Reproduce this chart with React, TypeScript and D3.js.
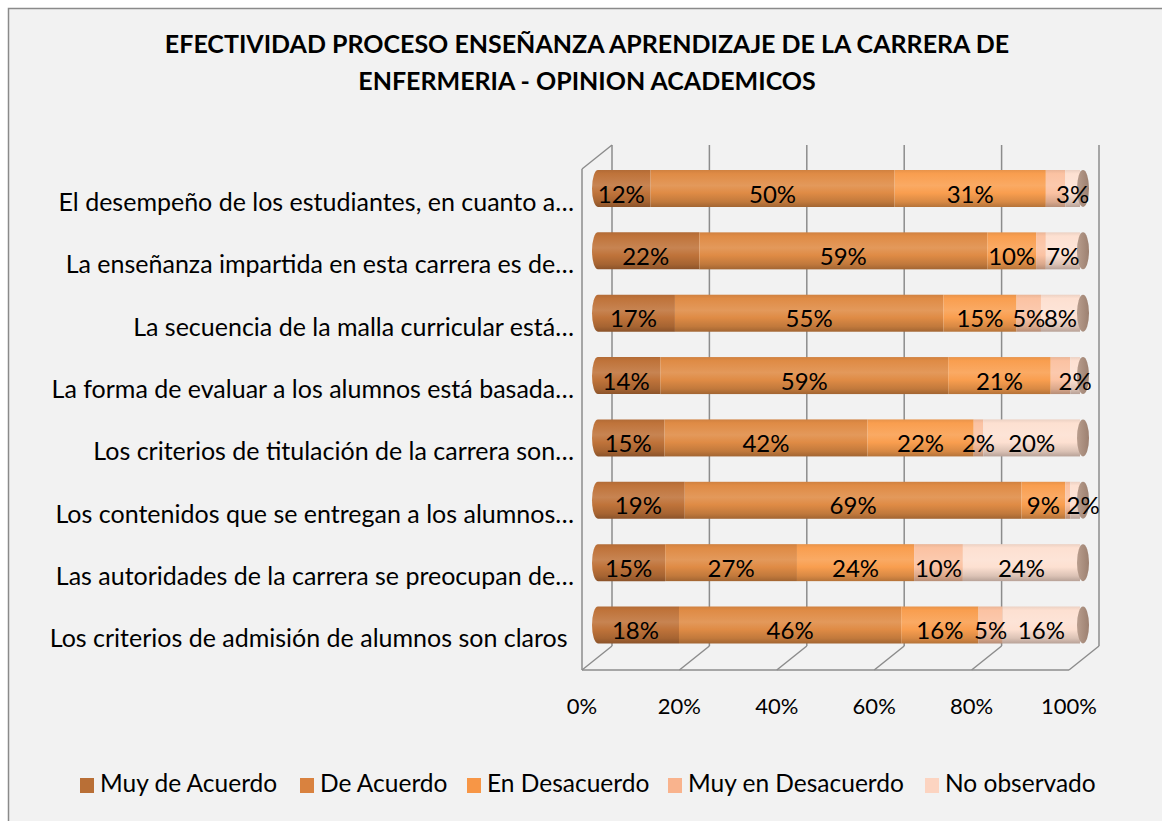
import React from 'react';
import * as d3 from 'd3';

const CATEGORIES = [
  'El desempeño de los estudiantes, en cuanto a…',
  'La enseñanza impartida en esta carrera es de…',
  'La secuencia de la malla curricular está…',
  'La forma de evaluar a los alumnos está basada…',
  'Los criterios de titulación de la carrera son…',
  'Los contenidos que se entregan a los alumnos…',
  'Las autoridades de la carrera se preocupan de…',
  'Los criterios de admisión de alumnos son claros ',
];

const SERIES = ['Muy de Acuerdo', 'De Acuerdo', 'En Desacuerdo', 'Muy en Desacuerdo', 'No observado'];

const MUY_DE_ACUERDO = [12, 22, 17, 14, 15, 19, 15, 18];
const DE_ACUERDO = [50, 59, 55, 59, 42, 69, 27, 46];
const EN_DESACUERDO = [31, 10, 15, 21, 22, 9, 24, 16];
const MUY_EN_DESACUERDO = [4, 2, 5, 4, 2, 1, 10, 5];
const NO_OBSERVADO = [3, 7, 8, 2, 20, 2, 24, 16];

// labels that are not shown in the original: [row, series]
const HIDDEN_LABELS = [[0, 3], [1, 3], [3, 3], [5, 3]];
// label moved right in the original: [row, series]
const NUDGED_LABELS = [[5, 4]];

const TICKS = [0, 0.2, 0.4, 0.6, 0.8, 1];

const COLORS = ['#b96f36', '#d9823f', '#f79646', '#f9b38d', '#fcd4c1'];
const CYL_COLORS = ['#bf733a', '#df8b45', '#f99e4f', '#fbc2a2', '#fde0d1'];

const FONT = 'Lato, "Open Sans", sans-serif';

export default function App() {
  const W = 1162;
  const H = 821;

  // 3D box geometry (front face + depth offset)
  const depthX = 30;
  const depthY = -24;
  const frontLeft = 582;
  const frontRight = 1069;
  const floorY = 670;
  const wallTop = 145;

  const xFront = d3.scaleLinear().domain([0, 1]).range([frontLeft, frontRight]);
  const xBack = d3.scaleLinear().domain([0, 1]).range([frontLeft + depthX, frontRight + depthX]);
  const xBar = d3.scaleLinear().domain([0, 1]).range([592, 1080]);
  const y = d3.scalePoint<string>().domain(CATEGORIES).range([188.5, 625]);
  const barH = 37;

  const rows = CATEGORIES.map((c, i) => ({
    cat: c,
    s0: MUY_DE_ACUERDO[i],
    s1: DE_ACUERDO[i],
    s2: EN_DESACUERDO[i],
    s3: MUY_EN_DESACUERDO[i],
    s4: NO_OBSERVADO[i],
  }));
  const keys = ['s0', 's1', 's2', 's3', 's4'];
  const stacked = d3.stack<any>().keys(keys).offset(d3.stackOffsetExpand)(rows);

  const isHidden = (r: number, s: number) => HIDDEN_LABELS.some(([a, b]) => a === r && b === s);
  const isNudged = (r: number, s: number) => NUDGED_LABELS.some(([a, b]) => a === r && b === s);

  const gridColor = '#8c8c8c';
  const rx = 6;

  return (
    <svg width={W} height={H} style={{ position: 'absolute', left: 0, top: 0 }} fontFamily={FONT}>
      <defs>
        {CYL_COLORS.map((c, i) => {
          const base = d3.color(c)!;
          const light = d3.interpolateRgb(c, '#ffffff')(0.12);
          return (
            <linearGradient key={i} id={`cyl${i}`} x1="0" y1="0" x2="0" y2="1">
              <stop offset="0" stopColor={base.darker(0.2).formatHex()} />
              <stop offset="0.1" stopColor={c} />
              <stop offset="0.42" stopColor={light} />
              <stop offset="0.62" stopColor={c} />
              <stop offset="0.86" stopColor={base.darker(0.4).formatHex()} />
              <stop offset="1" stopColor={base.darker(0.9).formatHex()} />
            </linearGradient>
          );
        })}
        <linearGradient id="cap" x1="0" y1="0" x2="1" y2="0">
          <stop offset="0" stopColor="#b89d8d" />
          <stop offset="1" stopColor="#9c8070" />
        </linearGradient>
      </defs>

      <rect x={0} y={0} width={W} height={H} fill="#ffffff" />
      <rect x={8.5} y={8.5} width={W + 20} height={H + 20} fill="#f2f2f2" stroke="#8a8a8a" strokeWidth={1.5} />

      {/* title */}
      <text x={587} y={47} textAnchor="middle" dominantBaseline="middle" fontWeight="700" fontSize={25} fill="#000">
        EFECTIVIDAD PROCESO ENSEÑANZA APRENDIZAJE DE LA CARRERA DE
      </text>
      <text x={587} y={84} textAnchor="middle" dominantBaseline="middle" fontWeight="700" fontSize={25} fill="#000">
        ENFERMERIA - OPINION ACADEMICOS
      </text>

      {/* back wall gridlines */}
      {TICKS.map((t) => (
        <line key={`g${t}`} x1={xBack(t)} x2={xBack(t)} y1={wallTop} y2={floorY + depthY} stroke={gridColor} strokeWidth={1.5} />
      ))}
      {/* floor diagonals */}
      {TICKS.map((t) => (
        <line key={`f${t}`} x1={xBack(t)} y1={floorY + depthY} x2={xFront(t)} y2={floorY} stroke={gridColor} strokeWidth={1.5} />
      ))}
      <line x1={xFront(0)} x2={xFront(1)} y1={floorY} y2={floorY} stroke={gridColor} strokeWidth={1.5} />
      {/* side wall */}
      <line x1={xFront(0)} x2={xFront(0)} y1={wallTop - depthY} y2={floorY} stroke={gridColor} strokeWidth={1.5} />
      <line x1={xFront(0)} y1={wallTop - depthY} x2={xBack(0)} y2={wallTop} stroke={gridColor} strokeWidth={1.5} />

      {/* cylinders */}
      {rows.map((r, ri) => {
        const cy = y(r.cat)!;
        const top = cy - barH / 2;
        const end = xBar(1);
        return (
          <g key={r.cat}>
            {stacked.map((layer, si) => {
              const [a, b] = layer[ri];
              const x0 = xBar(a);
              const x1 = xBar(b);
              if (si === 0) {
                const d = `M${x0 + rx},${top} L${x1},${top} L${x1},${top + barH} L${x0 + rx},${top + barH} A${rx},${barH / 2} 0 0 1 ${x0 + rx},${top} Z`;
                return <path key={si} d={d} fill={`url(#cyl${si})`} />;
              }
              return <rect key={si} x={x0} y={top} width={Math.max(0, x1 - x0)} height={barH} fill={`url(#cyl${si})`} />;
            })}
            <ellipse cx={end + 3} cy={cy} rx={rx} ry={barH / 2} fill="url(#cap)" />
          </g>
        );
      })}

      {/* data labels */}
      {rows.map((r, ri) => {
        const cy = y(r.cat)!;
        return stacked.map((layer, si) => {
          if (isHidden(ri, si)) return null;
          const [a, b] = layer[ri];
          const v = (r as any)[keys[si]];
          return (
            <text key={`${ri}-${si}`} x={xBar((a + b) / 2)} dx={isNudged(ri, si) ? 8 : 0} y={cy + 8} textAnchor="middle" dominantBaseline="middle" fontSize={24} fill="#000">
              {v}%
            </text>
          );
        });
      })}

      {/* category labels */}
      {CATEGORIES.map((c) => (
        <text key={c} x={574} y={y(c)! + 16} textAnchor="end" dominantBaseline="middle" fontSize={25} fill="#000" style={{ whiteSpace: 'pre' }}>
          {c}
        </text>
      ))}

      {/* x tick labels */}
      {TICKS.map((t) => (
        <text key={`t${t}`} x={xFront(t)} y={708} textAnchor="middle" dominantBaseline="middle" fontSize={22} fill="#000">
          {d3.format('.0%')(t)}
        </text>
      ))}

      {/* legend */}
      {SERIES.map((s, i) => {
        const lx = [80, 300, 467, 668, 925][i];
        return (
          <g key={s}>
            <rect x={lx} y={778} width={14} height={15} fill={COLORS[i]} />
            <text x={lx + 20} y={786} dominantBaseline="middle" fontSize={24.5} fill="#000">
              {s}
            </text>
          </g>
        );
      })}
    </svg>
  );
}
